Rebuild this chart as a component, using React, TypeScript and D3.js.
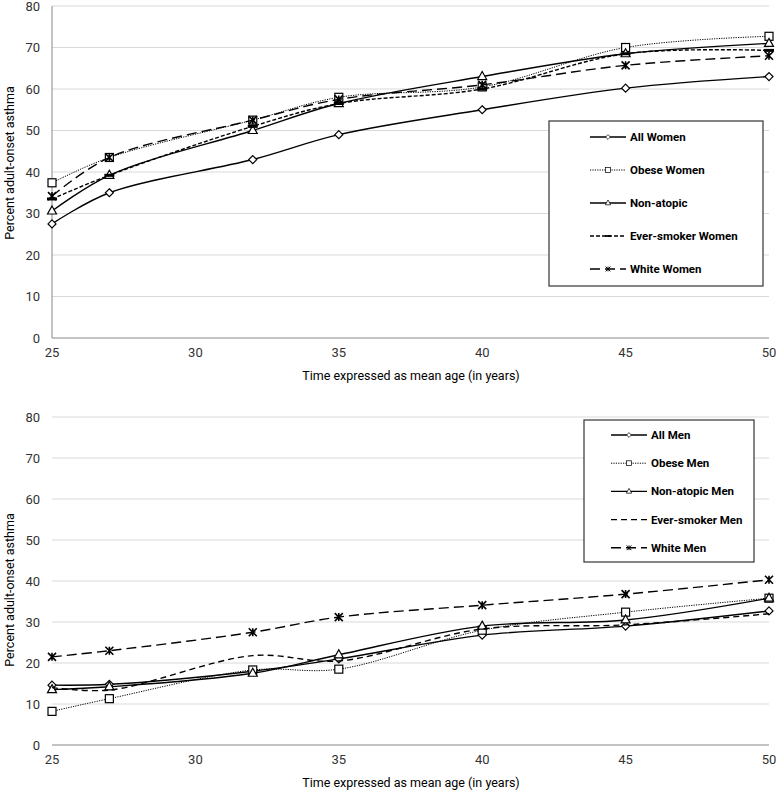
import * as d3 from "d3";
import React from "react";

// Ages (x) shared by both panels
const ages = [25, 27, 32, 35, 40, 45, 50];

// Women panel
const allWomen = [27.5, 35, 43, 49, 55, 60.2, 63];
const obeseWomen = [37.4, 43.5, 52.5, 58, 60.5, 70, 72.7];
const nonAtopicWomen = [30.6, 39.2, 50, 56.5, 63, 68.5, 71];
const smokerWomen = [33.5, 39.2, 51, 56.5, 60, 68.5, 69.3];
const whiteWomen = [34.2, 43.5, 52.5, 57.5, 61, 65.7, 68];

// Men panel
const allMen = [14.6, 14.8, 18, 21, 26.8, 29, 32.7];
const obeseMen = [8.2, 11.3, 18.3, 18.5, 28, 32.4, 35.8];
const nonAtopicMen = [13.5, 14.2, 17.5, 22, 29, 30.5, 35.8];
const smokerMen = [14, 13.4, 21.8, 20.5, 28.3, 29.3, 32];
const whiteMen = [21.5, 23, 27.5, 31.2, 34.1, 36.8, 40.3];

const yTicks = [0, 10, 20, 30, 40, 50, 60, 70, 80];
const xTicks = [25, 30, 35, 40, 45, 50];

type Marker = "diamond" | "square" | "triangle" | "star" | "dash" | "none";

interface Series {
  name: string;
  values: number[];
  dash: string;
  width: number;
  marker: Marker;
}

const womenSeries: Series[] = [
  { name: "All Women", values: allWomen, dash: "", width: 1.4, marker: "diamond" },
  { name: "Obese Women", values: obeseWomen, dash: "1.2,1.2", width: 1, marker: "square" },
  { name: "Non-atopic", values: nonAtopicWomen, dash: "", width: 1.4, marker: "triangle" },
  { name: "Ever-smoker Women", values: smokerWomen, dash: "4,2", width: 1.4, marker: "dash" },
  { name: "White Women", values: whiteWomen, dash: "10,5", width: 1.4, marker: "star" },
];

const menSeries: Series[] = [
  { name: "All Men", values: allMen, dash: "", width: 1.4, marker: "diamond" },
  { name: "Obese Men", values: obeseMen, dash: "1.2,1.2", width: 1, marker: "square" },
  { name: "Non-atopic Men", values: nonAtopicMen, dash: "", width: 1.4, marker: "triangle" },
  { name: "Ever-smoker Men", values: smokerMen, dash: "6,4", width: 1.4, marker: "none" },
  { name: "White Men", values: whiteMen, dash: "10,5", width: 1.4, marker: "star" },
];

const FONT = "Roboto, 'Liberation Sans', sans-serif";

const MarkerShape: React.FC<{ type: Marker; x: number; y: number }> = ({ type, x, y }) => {
  const s = { stroke: "#000", strokeWidth: 1.2, fill: "#fff" };
  switch (type) {
    case "diamond":
      return <path d={`M${x},${y - 4}L${x + 4},${y}L${x},${y + 4}L${x - 4},${y}Z`} {...s} />;
    case "square":
      return <rect x={x - 4} y={y - 4} width={8} height={8} {...s} />;
    case "triangle":
      return <path d={`M${x},${y - 5}L${x + 4.5},${y + 3}L${x - 4.5},${y + 3}Z`} {...s} />;
    case "star":
      return (
        <path
          d={`M${x - 4},${y - 4}L${x + 4},${y + 4}M${x + 4},${y - 4}L${x - 4},${y + 4}M${x},${y - 4}L${x},${y + 4}`}
          stroke="#000"
          strokeWidth={1.6}
          fill="none"
        />
      );
    case "dash":
      return <path d={`M${x - 5},${y}L${x + 5},${y}`} stroke="#000" strokeWidth={3} />;
    default:
      return null;
  }
};

interface PanelProps {
  series: Series[];
  top: number;
  bottom: number;
  titleY: number;
  showYAxisLine: boolean;
  legend: { x: number; y: number; w: number; h: number; first: number; step: number; inset: number };
}

const Panel: React.FC<PanelProps> = ({ series, top, bottom, titleY, showYAxisLine, legend }) => {
  const x = d3.scaleLinear().domain([25, 50]).range([52, 769]);
  const y = d3.scaleLinear().domain([0, 80]).range([bottom, top]);
  const line = d3
    .line<number>()
    .x((_, i) => x(ages[i]))
    .y((d) => y(d))
    .curve(d3.curveCatmullRom.alpha(0.5));

  return (
    <g fontFamily={FONT}>
      {yTicks.slice(1).map((t) => (
        <line key={t} x1={x(25)} x2={x(50)} y1={y(t)} y2={y(t)} stroke="#d9d9d9" strokeWidth={1} />
      ))}
      <line x1={x(25)} x2={x(50)} y1={y(0)} y2={y(0)} stroke="#888" strokeWidth={1} />
      {showYAxisLine && (
        <line x1={x(25)} x2={x(25)} y1={y(80)} y2={y(0)} stroke="#888" strokeWidth={1} />
      )}
      {yTicks.map((t) => (
        <text key={t} x={40} y={y(t)} dy="0.35em" textAnchor="end" fontSize={13} fill="#333">
          {t}
        </text>
      ))}
      {xTicks.map((t) => (
        <text key={t} x={x(t)} y={bottom + 19} textAnchor="middle" fontSize={13} fill="#333">
          {t}
        </text>
      ))}
      <text x={411} y={bottom + 42} textAnchor="middle" fontSize={12.5} fill="#000">
        Time expressed as mean age (in years)
      </text>
      <text
        transform={`translate(14,${titleY}) rotate(-90)`}
        textAnchor="middle"
        fontSize={12.5}
        fill="#000"
      >
        Percent adult-onset asthma
      </text>

      {series.map((s) => (
        <g key={s.name}>
          <path
            d={line(s.values) ?? ""}
            fill="none"
            stroke="#000"
            strokeWidth={s.width}
            strokeDasharray={s.dash || undefined}
          />
          {s.values.map((v, i) => (
            <MarkerShape key={i} type={s.marker} x={x(ages[i])} y={y(v)} />
          ))}
        </g>
      ))}

      <rect
        x={legend.x}
        y={legend.y}
        width={legend.w}
        height={legend.h}
        fill="#fff"
        stroke="#333"
        strokeWidth={1.2}
      />
      {series.map((s, i) => {
        const ly = legend.first + i * legend.step;
        const lx0 = legend.x + legend.inset;
        const lx1 = lx0 + 36;
        const mx = (lx0 + lx1) / 2;
        return (
          <g key={s.name}>
            <line
              x1={lx0}
              x2={lx1}
              y1={ly}
              y2={ly}
              stroke="#000"
              strokeWidth={s.width}
              strokeDasharray={s.dash || undefined}
            />
            <g transform={`translate(${mx},${ly}) scale(0.6) translate(${-mx},${-ly})`}>
              <MarkerShape type={s.marker} x={mx} y={ly} />
            </g>
            <text x={lx1 + 4} y={ly} dy="0.35em" fontSize={11.5} fontWeight="bold" fill="#000">
              {s.name}
            </text>
          </g>
        );
      })}
    </g>
  );
};

const App: React.FC = () => {
  return (
    <div style={{ position: "absolute", left: 0, top: 0 }}>
      <svg width={778} height={793} style={{ display: "block", background: "#fff" }}>
        <Panel
          series={womenSeries}
          top={6}
          bottom={338}
          titleY={163}
          showYAxisLine={true}
          legend={{ x: 549, y: 121, w: 214, h: 165, first: 137, step: 33, inset: 41 }}
        />
        <Panel
          series={menSeries}
          top={417}
          bottom={745}
          titleY={590}
          showYAxisLine={false}
          legend={{ x: 584, y: 420, w: 170, h: 142, first: 435, step: 28.2, inset: 27 }}
        />
      </svg>
    </div>
  );
};

export default App;
